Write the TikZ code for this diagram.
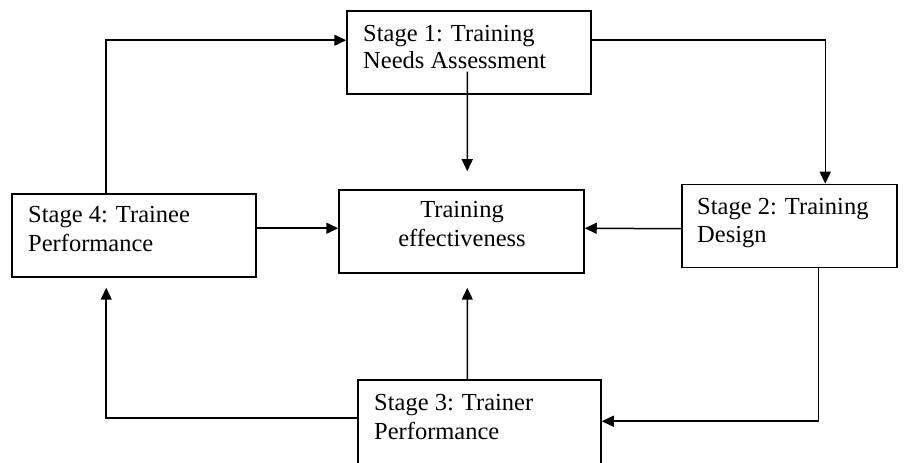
\documentclass[tikz,border=0pt]{standalone}
\usepackage{fontspec}
\setmainfont{Liberation Serif}
\usetikzlibrary{arrows.meta,calc}
\begin{document}
\begin{tikzpicture}[x=1bp,y=-1bp,
  box/.style={draw,line width=1.5bp,minimum width=#1,minimum height=83bp,inner sep=0pt},
  txt/.style={anchor=base west,inner sep=0pt,font=\fontsize{24.5bp}{28bp}\selectfont},
  ctxt/.style={anchor=base,inner sep=0pt,font=\fontsize{24.5bp}{28bp}\selectfont},
  arr/.style={line width=1.5bp,-{Triangle[length=12bp,width=11bp]}}]
\useasboundingbox (0,0) rectangle (904,463);
% boxes
\node[box=244bp] (s1) at (469,52.5) {};
\node[box=245bp] (c) at (461.5,231.5) {};
\node[box=244bp] (s4) at (134,235.5) {};
\node[box=215bp] (s2) at (789.5,226) {};
\begin{scope}
\clip (0,0) rectangle (904,463);
\node[box=243bp,minimum height=90bp] (s3) at (479.5,425) {};
\end{scope}
% texts
\node[txt] (t1a) at (363,42) {Stage 1: Training};
\node[txt] (t1b) at (363,69) {Needs Assessment};
\node[ctxt] (tca) at (462,218) {Training};
\node[ctxt] (tcb) at (462,247) {effectiveness};
\node[txt] (t4a) at (28,223) {Stage 4: Trainee};
\node[txt] (t4b) at (28,252) {Performance};
\node[txt] (t2a) at (697,215) {Stage 2: Training};
\node[txt] (t2b) at (697,243) {Design};
\node[txt] (t3a) at (374,410) {Stage 3: Trainer};
\node[txt] (t3b) at (374,439) {Performance};
% connectors
\draw[arr] ($(s4.north west)+(95,0)$) |- ($(s1.north west)+(0,30)$);
\draw[arr] ($(s1.north east)+(0,30)$) -| ($(s2.north west)+(144,0)$);
\draw[arr] ($(s1.south west)+(121,-23)$) -- ($(c.north west)+(129,-18)$);
\draw[arr] ($(s4.north east)+(0,35)$) -- ($(c.north west)+(0,39)$);
\draw[arr] ($(s2.north west)+(0,45)$) -- ($(c.north east)+(0,39)$);
\draw[arr] ($(s2.south west)+(137,0)$) |- ($(s3.north east)+(0,42)$);
\draw[arr] ($(s3.north west)+(110,0)$) -- ($(c.south west)+(129,14)$);
\draw[arr] ($(s3.north west)+(0,39)$) -| ($(s4.south west)+(95,10)$);
\end{tikzpicture}
\end{document}
